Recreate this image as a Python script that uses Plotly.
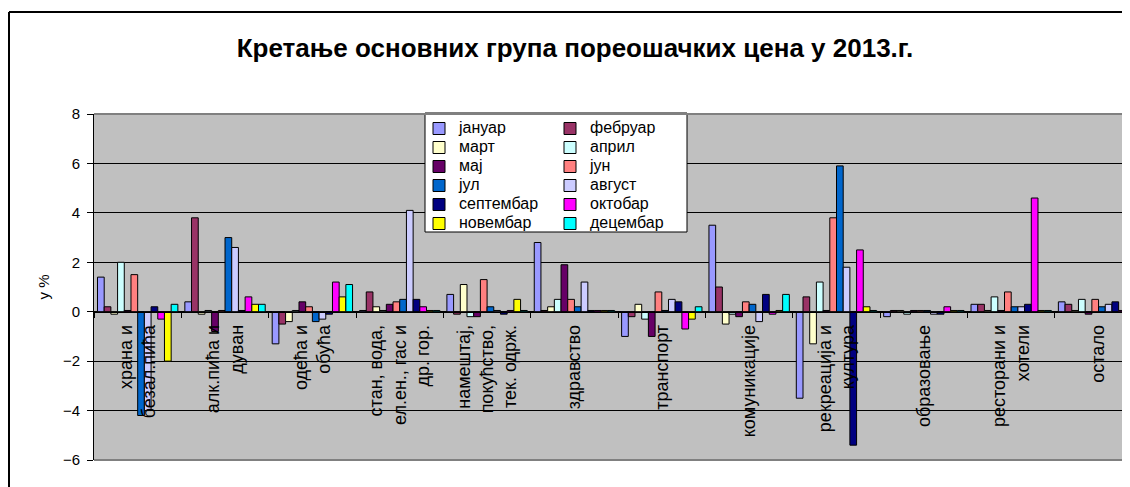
import plotly.graph_objects as go

categories = [
    "храна и<br>безал.пића",
    "алк.пића и<br>дуван",
    "одећа и<br>обућа",
    "стан, вода,<br>ел.ен., гас и<br>др. гор.",
    "намештај,<br>покућство,<br>тек. одрж.",
    "здравство",
    "транспорт",
    "комуникације",
    "рекреација и<br>култура",
    "образовање",
    "ресторани и<br>хотели",
    "остало",
]

months = ["јануар", "фебруар", "март", "април", "мај", "јун",
          "јул", "август", "септембар", "октобар", "новембар", "децембар"]

# values per month, in category order
januar    = [1.4, 0.4, -1.3, 0.05, 0.7, 2.8, -1.0, 3.5, -3.5, -0.2, 0.3, 0.4]
februar   = [0.2, 3.8, -0.5, 0.8, -0.1, 0.05, -0.2, 1.0, 0.6, 0.05, 0.3, 0.3]
mart      = [-0.1, -0.1, -0.4, 0.2, 1.1, 0.2, 0.3, -0.5, -1.3, 0.05, 0.05, 0.05]
april     = [2.0, 0.05, 0.05, 0.05, -0.2, 0.5, -0.3, -0.1, 1.2, -0.1, 0.6, 0.5]
maj       = [0.05, -0.8, 0.4, 0.3, -0.2, 1.9, -1.0, -0.2, 0.05, 0.05, 0.05, -0.1]
jun       = [1.5, 0.05, 0.2, 0.4, 1.3, 0.5, 0.8, 0.4, 3.8, 0.05, 0.8, 0.5]
jul       = [-4.2, 3.0, -0.4, 0.5, 0.2, 0.2, 0.05, 0.3, 5.9, 0.05, 0.2, 0.2]
avgust    = [-4.0, 2.6, -0.3, 4.1, 0.05, 1.2, 0.5, -0.4, 1.8, -0.1, 0.2, 0.3]
septembar = [0.2, 0.05, -0.1, 0.5, -0.1, 0.05, 0.4, 0.7, -5.4, -0.1, 0.3, 0.4]
oktobar   = [-0.3, 0.6, 1.2, 0.2, 0.05, 0.05, -0.7, -0.1, 2.5, 0.2, 4.6, 0.05]
novembar  = [-2.0, 0.3, 0.6, 0.05, 0.5, 0.05, -0.3, 0.05, 0.2, 0.05, 0.05, 0.05]
decembar  = [0.3, 0.3, 1.1, 0.05, 0.05, 0.05, 0.2, 0.7, 0.05, 0.05, 0.05, 0.05]

series = [januar, februar, mart, april, maj, jun, jul, avgust,
          septembar, oktobar, novembar, decembar]

colors = ["#9999FF", "#993366", "#FFFFCC", "#CCFFFF", "#660066", "#FF8080",
          "#0066CC", "#CCCCFF", "#000080", "#FF00FF", "#FFFF00", "#00FFFF"]

FONT = "Liberation Sans, Arial, sans-serif"

fig = go.Figure()
for i, (name, vals, col) in enumerate(zip(months, series, colors)):
    fig.add_trace(go.Bar(
        x=categories, y=vals,
        name='<span style="font-size:16px">' + name + '</span>',
        marker=dict(color=col, line=dict(color="black", width=1)),
        legend="legend" if i % 2 == 0 else "legend2",
    ))

# page body has an 8px margin: work in screen coordinates and convert
OFF = 8
W, H = 1130, 487
L, T, R = 94 - OFF, 114 - OFF, OFF
B = H - (460 - OFF)
pw = W - L - R
ph = H - T - B

def px2x(sx):
    return (sx - OFF - L) / pw

def px2y(sy):
    return (H - B - (sy - OFF)) / ph

fig.update_layout(
    width=W, height=H,
    margin=dict(l=L, r=R, t=T, b=B, autoexpand=False),
    paper_bgcolor="white",
    plot_bgcolor="#C0C0C0",
    barmode="group",
    bargap=0.08,
    bargroupgap=0,
    font=dict(family=FONT, color="black"),
    title=dict(
        text="<b>Кретање основних група пореошачких цена у 2013.г.</b>",
        font=dict(family=FONT, size=26, color="black"),
        x=(575 - OFF) / W, xref="container", xanchor="center",
        y=1 - (48 - OFF) / H, yref="container", yanchor="middle",
    ),
    xaxis=dict(
        type="category",
        range=[-0.5, 11.36],
        anchor="free",
        position=6 / 14,
        showline=True, linecolor="black", linewidth=1,
        showgrid=False,
        ticks="outside", ticklen=5, tickcolor="black",
        tickson="boundaries",
        tickangle=-90,
        tickfont=dict(family=FONT, size=18, color="black"),
        ticklabelstandoff=5,
        automargin=False,
    ),
    yaxis=dict(
        range=[-6, 8],
        dtick=2,
        tick0=0,
        showgrid=True, gridcolor="black", gridwidth=1,
        zeroline=True, zerolinecolor="black", zerolinewidth=1,
        showline=True, linecolor="black", linewidth=1,
        ticks="outside", ticklen=6, tickcolor="black",
        tickfont=dict(family=FONT, size=15, color="black"),
        ticklabelstandoff=4,
        title=dict(text="у %", font=dict(family=FONT, size=15, color="black"), standoff=9),
        automargin=False,
    ),
    legend=dict(
        x=px2x(419), y=px2y(114), xanchor="left", yanchor="top",
        bgcolor="rgba(0,0,0,0)", borderwidth=0,
        font=dict(family=FONT, size=12, color="black"),
        tracegroupgap=0,
    ),
    legend2=dict(
        x=px2x(550), y=px2y(114), xanchor="left", yanchor="top",
        bgcolor="rgba(0,0,0,0)", borderwidth=0,
        font=dict(family=FONT, size=12, color="black"),
        tracegroupgap=0,
    ),
    showlegend=True,
    shapes=[
        # legend frame
        dict(type="rect", xref="paper", yref="paper",
             x0=px2x(425), x1=px2x(687), y0=px2y(113), y1=px2y(232),
             fillcolor="white", line=dict(color="black", width=1), layer="above"),
        # plot area border (top & bottom)
        dict(type="line", xref="paper", yref="paper", x0=0, x1=1.05, y0=1, y1=1,
             line=dict(color="#808080", width=2), layer="above"),
        dict(type="line", xref="paper", yref="paper", x0=0, x1=1.05, y0=0, y1=0,
             line=dict(color="#808080", width=2), layer="above"),
        # outer chart border
        dict(type="line", xref="paper", yref="paper",
             x0=px2x(9), x1=px2x(9), y0=px2y(12), y1=px2y(520),
             line=dict(color="black", width=2), layer="above"),
        dict(type="line", xref="paper", yref="paper",
             x0=px2x(9), x1=px2x(1160), y0=px2y(12), y1=px2y(12),
             line=dict(color="black", width=2), layer="above"),
    ],
)

fig.write_html("out.html")
